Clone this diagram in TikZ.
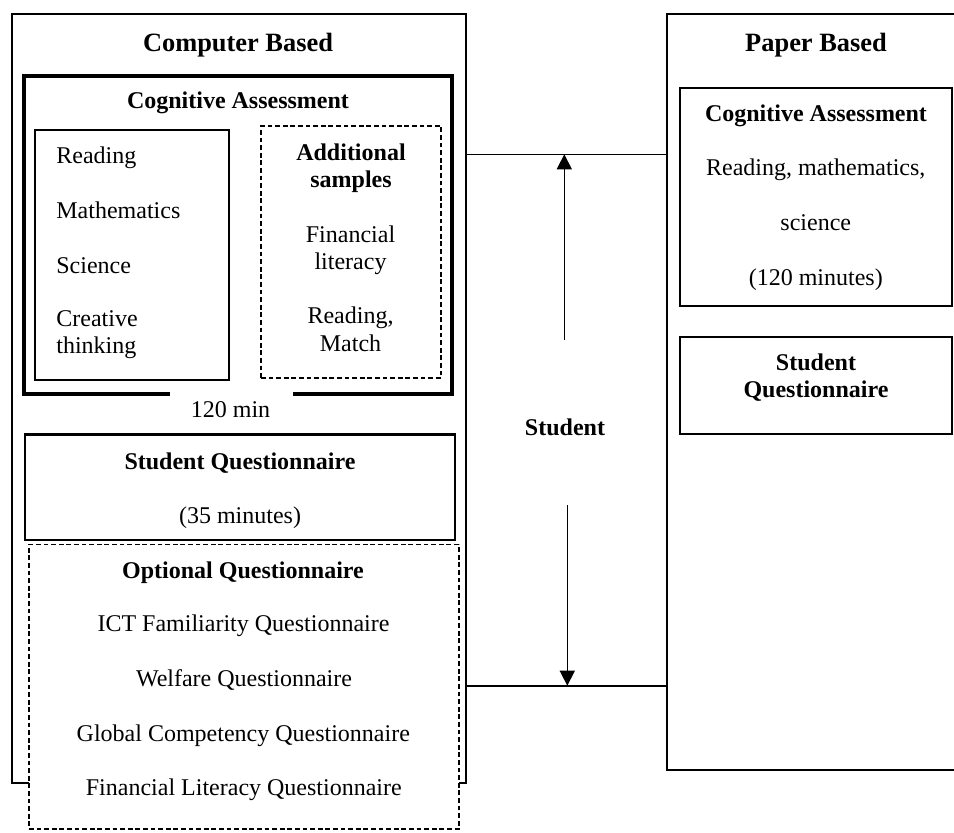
\documentclass[tikz,border=0pt]{standalone}
\usepackage{fontspec}
\setmainfont{Liberation Serif}
\usetikzlibrary{fit,arrows.meta}
\begin{document}
\begin{tikzpicture}[x=0.5pt,y=-0.5pt,
  frame/.style={draw, line width=1pt, inner sep=0pt},
  heavy/.style={line width=2pt, line join=miter},
  dashbox/.style={draw, line width=0.8pt, dash pattern=on 2.4pt off 1.4pt, inner sep=0pt},
  txt/.style={font=\fontsize{12}{14}\selectfont, inner sep=0pt, anchor=base},
  btxt/.style={font=\fontsize{12}{14}\selectfont\bfseries, inner sep=0pt, anchor=base},
  ttl/.style={font=\fontsize{13.2}{16}\selectfont\bfseries, inner sep=0pt, anchor=base},
  link/.style={line width=0.8pt},
  arr/.style={line width=0.8pt, -{Triangle[length=7.5pt,width=7.5pt]}}
]
\useasboundingbox (0,0) rectangle (954,832);
\clip (0,0) rectangle (954,832);

% ---------------- Computer based column ----------------
\node[frame, fit={(12,14) (466,782.5)}] (cb) {};
\node[ttl] (cbt) at (238,51) {Computer Based};

% cognitive assessment frame, open at the bottom for the time label
\node[inner sep=0pt, outer sep=0pt, fit={(24,75.5) (452.3,394)}] (ca) {};
\coordinate (gapL) at (170,394);
\coordinate (gapR) at (293.3,394);
\draw[heavy] (gapL) -- (ca.south west) -- (ca.north west) -- (ca.north east) -- (ca.south east) -- (gapR);
\node[btxt] (cat) at (238,108.3) {Cognitive Assessment};
\node[txt] (camin) at (230.5,417) {120 min};

% core domains
\node[frame, fit={(35,130) (229.3,380)}] (core) {};
\node[txt, anchor=base west] (d1) at (56,163.3) {Reading};
\node[txt, anchor=base west] (d2) at (56,218.3) {Mathematics};
\node[txt, anchor=base west] (d3) at (56,273.3) {Science};
\node[txt, anchor=base west] (d4a) at (56,326.7) {Creative};
\node[txt, anchor=base west] (d4b) at (56,353.3) {thinking};

% additional samples
\node[dashbox, fit={(261,126) (441,377.7)}] (add) {};
\node[btxt] (adt1) at (351,160) {Additional};
\node[btxt] (adt2) at (351,187.5) {samples};
\node[txt] (ad1a) at (350.5,242.3) {Financial};
\node[txt] (ad1b) at (350.5,269.3) {literacy};
\node[txt] (ad2a) at (350.5,323.3) {Reading,};
\node[txt] (ad2b) at (350.5,351.7) {Match};

% student questionnaire
\node[frame, line width=1.2pt, fit={(25,434.3) (455,540)}] (sq) {};
\node[btxt] (sqt) at (240,469.3) {Student Questionnaire};
\node[txt] (sqm) at (240,523.3) {(35 minutes)};

% optional questionnaires
\node[dashbox, fill=white, fit={(29,544.3) (458.7,829)}] (oq) {};
\node[btxt] (oqt) at (243,578.3) {Optional Questionnaire};
\node[txt] (oq1) at (243.5,631.7) {ICT Familiarity Questionnaire};
\node[txt] (oq2) at (244,686.7) {Welfare Questionnaire};
\node[txt] (oq3) at (243.3,741.7) {Global Competency Questionnaire};
\node[txt] (oq4) at (243.8,795.7) {Financial Literacy Questionnaire};

% ---------------- Paper based column ----------------
\node[frame, fit={(667.3,14) (1000,770)}] (pb) {};
\node[ttl] (pbt) at (816,51) {Paper Based};

\node[frame, fit={(680.3,88.3) (952.3,306)}] (pca) {};
\node[btxt] (pcat) at (816,121.7) {Cognitive Assessment};
\node[txt] (pc1) at (815.8,175.7) {Reading, mathematics,};
\node[txt] (pc2) at (815.8,230) {science};
\node[txt] (pc3) at (815.8,285) {(120 minutes)};

\node[frame, fit={(680.3,337.3) (952.3,434.3)}] (psq) {};
\node[btxt] (psq1) at (816,370) {Student};
\node[btxt] (psq2) at (816,397.7) {Questionnaire};

% ---------------- Student link between the two columns ----------------
\coordinate (ytop) at (0,154.3);
\coordinate (ybot) at (0,685.7);
\draw[link] (cb.east |- ytop) -- (pb.west |- ytop);
\draw[link] (cb.east |- ybot) -- (pb.west |- ybot);
\node[btxt] (stu) at (565,435) {Student};
\coordinate (upfoot) at (564.3,340);
\coordinate (downhead) at (567.3,505);
\draw[arr] (upfoot) -- (upfoot |- ytop);
\draw[arr] (downhead) -- (downhead |- ybot);
\end{tikzpicture}
\end{document}
